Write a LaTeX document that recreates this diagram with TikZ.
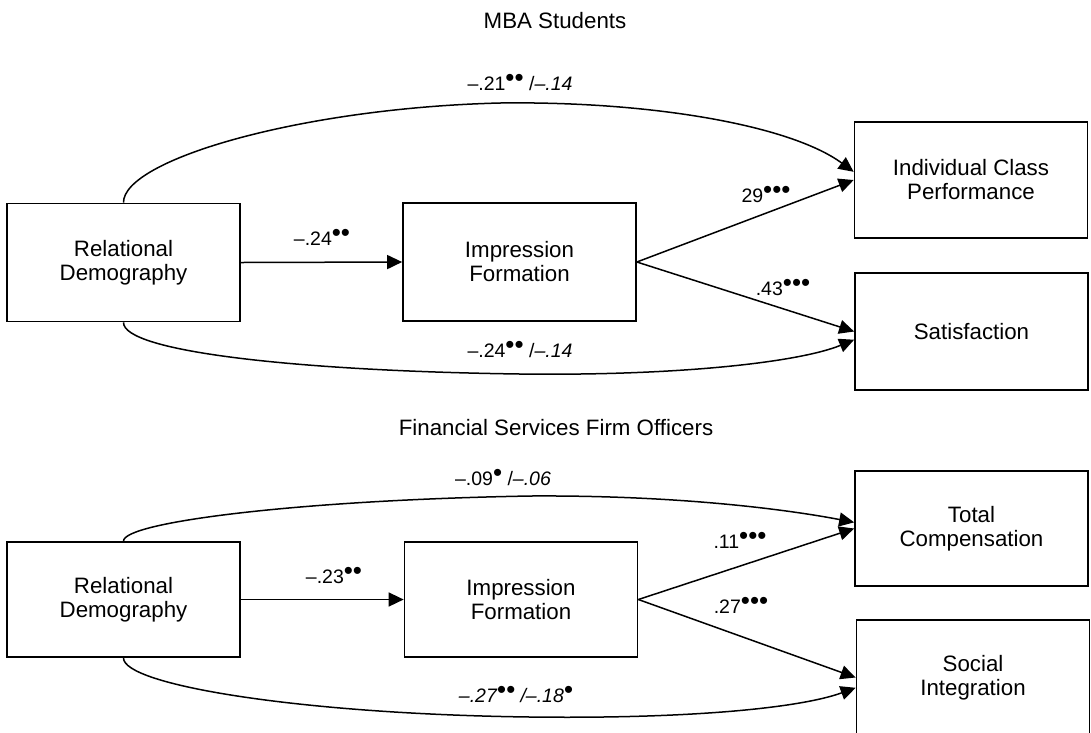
\documentclass[tikz,border=0pt]{standalone}
\usepackage{fontspec}
\setmainfont{Liberation Sans}
\usetikzlibrary{arrows.meta}

\newcommand{\varfont}{\fontsize{22.3}{24}\selectfont}
\newcommand{\coeffont}{\fontsize{19.5}{22}\selectfont}
\newcommand{\sig}[1]{\raisebox{4pt}{\fontsize{26}{26}\selectfont #1}}

\tikzset{
  varbox/.style={draw, line width=1.7pt, minimum width=233pt, minimum height=118pt,
    inner sep=0pt, align=center, font=\varfont},
  link/.style={line width=1.5pt, -{Triangle[length=15pt,width=14pt]}},
  coef/.style={font=\coeffont, inner sep=0pt, anchor=base},
  paneltitle/.style={font=\varfont, inner sep=0pt, anchor=base},
}

\begin{document}
\begin{tikzpicture}[x=1pt, y=-1pt]
    \useasboundingbox (0,0) rectangle (1091,732);
    \clip (0,0) rectangle (1091,732);

    % MBA students
    \node[paneltitle] (mbatitle) at (555,28) {MBA Students};
    \node[varbox] (rd1) at (123.5,262.5) {Relational\\Demography};
    \node[varbox] (if1) at (519.5,262) {Impression\\Formation};
    \node[varbox, minimum height=116pt] (icp) at (971,180) {Individual Class\\Performance};
    \node[varbox, minimum height=117pt] (sat) at (971.5,331.5) {Satisfaction};

    \draw[link] (rd1.east) -- (if1.west);
    \draw[link] (if1.east) -- (icp.west);
    \draw[link] (if1.east) -- (sat.west);
    \draw[link] (rd1.north) .. controls (123,160) and (300,108) .. (500,103)
        .. controls (650,101) and (790,125) .. (icp.176);
    \draw[link] (rd1.south) .. controls (123,352) and (300,371) .. (520,374)
        .. controls (680,376) and (800,362) .. (sat.184);

    \node[coef] (c1) at (520,90) {--.21\sig{••} /\textit{--.14}};
    \node[coef] (c2) at (322,245) {--.24\sig{••}};
    \node[coef] (c3) at (766,202) {29\sig{•••}};
    \node[coef] (c4) at (783,295) {.43\sig{•••}};
    \node[coef] (c5) at (520,357) {--.24\sig{••} /\textit{--.14}};

    % Financial services firm officers
    \node[paneltitle] (fintitle) at (556,435) {Financial Services Firm Officers};
    \node[varbox, minimum height=115pt] (rd2) at (123.5,599.5) {Relational\\Demography};
    \node[varbox, minimum height=115pt] (if2) at (521,599.5) {Impression\\Formation};
    \node[varbox, minimum height=115pt] (tc) at (971.5,528.5) {Total\\Compensation};
    \node[varbox, minimum height=115pt] (si) at (973,677.5) {Social\\Integration};

    \draw[link] (rd2.east) -- (if2.west);
    \draw[link] (if2.east) -- (tc.west);
    \draw[link] (if2.east) -- (si.west);
    \draw[link] (rd2.north) .. controls (123,522) and (300,500) .. (530,496)
        .. controls (680,495) and (790,510) .. (tc.177);
    \draw[link] (rd2.south) .. controls (123,685) and (300,714) .. (530,717)
        .. controls (690,719) and (800,708) .. (si.185);

    \node[coef] (c6) at (503,485) {--.09\sig{•} /\textit{--.06}};
    \node[coef] (c7) at (334,583) {--.23\sig{••}};
    \node[coef] (c8) at (740,548) {.11\sig{•••}};
    \node[coef] (c9) at (741,613) {.27\sig{•••}};
    \node[coef] (c10) at (516,702) {\textit{--.27\sig{••} /--.18\sig{•}}};
\end{tikzpicture}
\end{document}
